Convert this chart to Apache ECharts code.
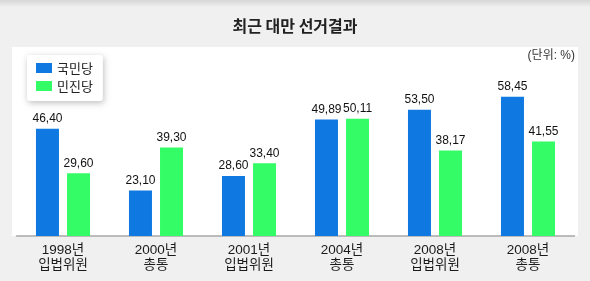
<!DOCTYPE html>
<html><head><meta charset="utf-8">
<script src="https://cdn.jsdelivr.net/npm/echarts@6/dist/echarts.min.js"></script>
<style>html,body{margin:0;padding:0;background:#f0f0f0}#c{width:590px;height:281px}</style>
</head><body><div id="c"></div>
<script>
const categories = ['1998년\n입법위원', '2000년\n총통', '2001년\n입법위원', '2004년\n총통', '2008년\n입법위원', '2008년\n총통'];
const kmtValues = [46.40, 23.10, 28.60, 49.89, 53.50, 58.45];
const dppValues = [29.60, 39.30, 33.40, 50.11, 38.17, 41.55];
const seriesNames = ['국민당', '민진당'];
const titleText = '최근 대만 선거결과';
const unitText = '(단위: %)';

const chart = echarts.init(document.getElementById('c'), null, {renderer: 'canvas'});
const txtFont = "'Liberation Sans', 'Noto Sans CJK KR', sans-serif";
const fmt = p => p.value.toFixed(2).replace('.', ',');
chart.setOption({
  backgroundColor: '#f0f0f0',
  animation: false,
  graphic: [
    {type: 'rect', z: -10, shape: {x: 0, y: 0, width: 590, height: 7},
     style: {fill: new echarts.graphic.LinearGradient(0, 0, 0, 1, [{offset: 0, color: '#d6d6d6'}, {offset: 1, color: '#f0f0f0'}])}},
    {type: 'rect', z: -9, shape: {x: 12, y: 47, width: 566, height: 189}, style: {fill: '#ffffff'}},
    {type: 'text', left: 'center', top: 18, style: {text: titleText, font: "bold 16px 'Noto Sans CJK KR', sans-serif", fill: '#222'}},
    {type: 'text', right: 15, top: 50, style: {text: unitText, font: "12px " + txtFont, fill: '#333'}}
  ],
  legend: {
    orient: 'vertical', left: 27, top: 55,
    data: seriesNames,
    icon: 'rect', itemWidth: 16, itemHeight: 10, itemGap: 4,
    padding: [6, 10, 8, 9],
    backgroundColor: '#fff', borderRadius: 3,
    shadowBlur: 6, shadowColor: 'rgba(0,0,0,0.25)', shadowOffsetX: 1, shadowOffsetY: 2,
    textStyle: {fontSize: 13, fontFamily: "'Noto Sans CJK KR', sans-serif", color: '#222', lineHeight: 14, padding: [0,0,0,0]}
  },
  grid: {left: 16.5, right: 15.5, top: 66, bottom: 45},
  xAxis: {
    type: 'category', data: categories,
    axisLine: {lineStyle: {color: '#a8a8a8', width: 1.5}},
    axisTick: {show: false},
    axisLabel: {color: '#1a1a1a', fontSize: 13.5, lineHeight: 15, margin: 7, fontFamily: txtFont}
  },
  yAxis: {type: 'value', min: 6, max: 70, show: false, splitLine: {show: false}},
  series: [
    {name: seriesNames[0], type: 'bar', data: kmtValues, barWidth: 23, barGap: '35%',
     itemStyle: {color: '#0f79e1'},
     label: {show: true, position: 'top', distance: 4, formatter: fmt, fontSize: 12, fontFamily: txtFont, color: '#111'}},
    {name: seriesNames[1], type: 'bar', data: dppValues, barWidth: 23,
     itemStyle: {color: '#34fc66'},
     label: {show: true, position: 'top', distance: 4, formatter: fmt, fontSize: 12, fontFamily: txtFont, color: '#111'}}
  ]
});
</script></body></html>
